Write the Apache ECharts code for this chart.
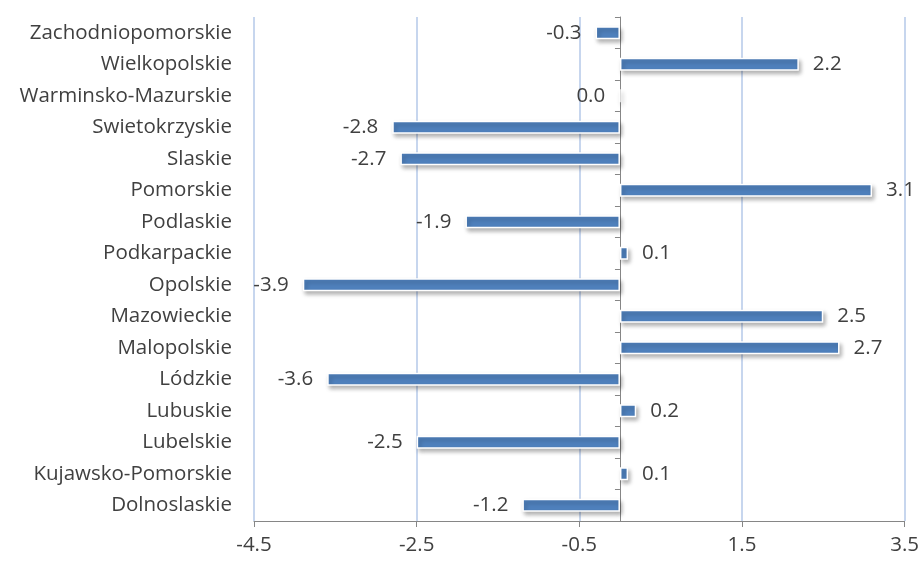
<!DOCTYPE html>
<html>
<head>
<meta charset="utf-8">
<script src="https://cdn.jsdelivr.net/npm/echarts@6/dist/echarts.min.js"></script>
<style>
  html, body { margin: 0; padding: 0; background: #fff; }
  #chart { width: 922px; height: 561px; }
</style>
</head>
<body>
<div id="chart"></div>
<script>
// Regions, listed bottom to top as they appear on the category axis
const regions = [
  'Dolnoslaskie', 'Kujawsko-Pomorskie', 'Lubelskie', 'Lubuskie', 'Lódzkie',
  'Malopolskie', 'Mazowieckie', 'Opolskie', 'Podkarpackie', 'Podlaskie',
  'Pomorskie', 'Slaskie', 'Swietokrzyskie', 'Warminsko-Mazurskie',
  'Wielkopolskie', 'Zachodniopomorskie'
];
const values = [-1.2, 0.1, -2.5, 0.2, -3.6, 2.7, 2.5, -3.9, 0.1, -1.9, 3.1, -2.7, -2.8, 0.0, 2.2, -0.3];
// Value axis range and step
const axisMin = -4.5;
const axisMax = 3.5;
const axisStep = 2;

const textColor = '#404040';
const fontFamily = '"Open Sans", "Noto Sans", sans-serif';
const fontSize = 20.5;

const chart = echarts.init(document.getElementById('chart'));

const barData = values.map(v => ({
  value: v,
  label: { position: (v > 0) ? 'right' : 'left' }
}));

chart.setOption({
  animation: false,
  grid: { left: 254, right: 14, top: 17, bottom: 40, containLabel: false },
  xAxis: {
    type: 'value',
    min: axisMin,
    max: axisMax,
    interval: axisStep,
    axisLine: { show: true, onZero: false, lineStyle: { color: '#868686', width: 1 } },
    axisTick: { show: true, length: 6, lineStyle: { color: '#868686' } },
    axisLabel: {
      margin: 14, color: textColor, fontSize: fontSize, fontFamily: fontFamily,
      formatter: v => v.toFixed(1)
    },
    splitLine: { show: true, lineStyle: { color: '#B4C8E8', width: 1.5 } }
  },
  yAxis: [
    {
      type: 'category',
      data: regions,
      position: 'left',
      axisLine: { show: false, onZero: false },
      axisTick: { show: false },
      axisLabel: { margin: 22, color: textColor, fontSize: fontSize, fontFamily: fontFamily },
      splitLine: { show: false }
    },
    {
      // zero line with category ticks
      type: 'category',
      data: regions,
      position: 'left',
      axisLine: { show: true, onZero: true, lineStyle: { color: '#868686', width: 1 } },
      axisTick: { show: true, length: 5, lineStyle: { color: '#868686' } },
      axisLabel: { show: false },
      splitLine: { show: false }
    }
  ],
  series: [{
    type: 'bar',
    yAxisIndex: 0,
    data: barData,
    barWidth: 13,
    itemStyle: {
      color: '#4F81BD',
      borderColor: '#ffffff',
      borderWidth: 1.5,
      shadowColor: 'rgba(0,0,0,0.3)',
      shadowBlur: 4,
      shadowOffsetX: 2,
      shadowOffsetY: 3
    },
    label: {
      show: true,
      distance: 14,
      color: textColor,
      fontSize: fontSize,
      fontFamily: fontFamily,
      formatter: p => p.value.toFixed(1)
    }
  }]
});
</script>
</body>
</html>
